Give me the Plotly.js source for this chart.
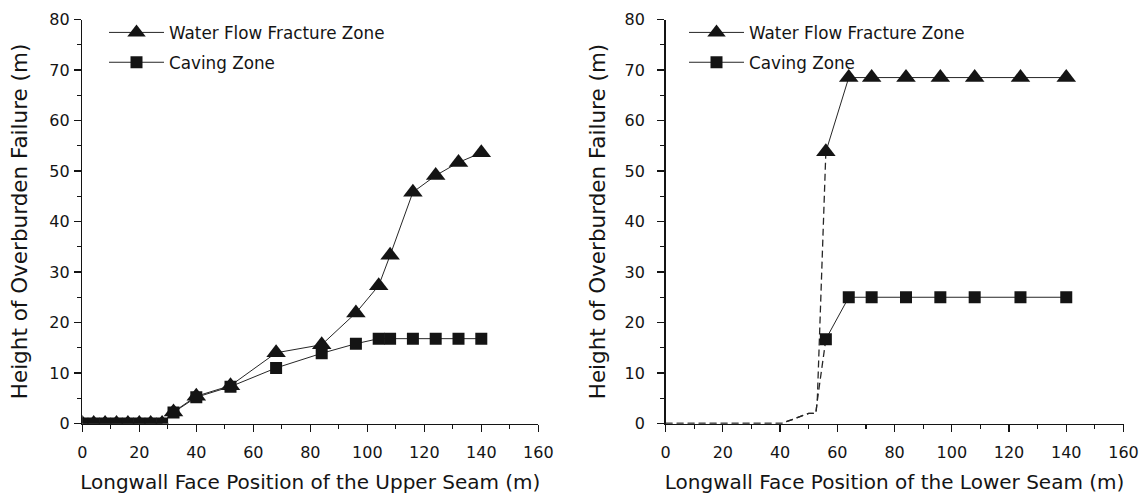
<!DOCTYPE html>
<html>
<head>
<meta charset="utf-8">
<script src="https://cdn.plot.ly/plotly-3.0.1.min.js"></script>
<style>
  html, body { margin: 0; padding: 0; background: #fff; }
  #chart { width: 1143px; height: 494px; }
</style>
</head>
<body>
<div id="chart"></div>
<script>
// ---- Data: upper seam (left panel) ----
const upperX = [0, 4, 8, 12, 16, 20, 24, 28, 32, 40, 52, 68, 84, 96, 104, 108, 116, 124, 132, 140];
const upperWaterFlow = [0, 0, 0, 0, 0, 0, 0, 0, 2.3, 5.4, 7.5, 14.0, 15.6, 21.9, 27.3, 33.3, 45.8, 49.1, 51.7, 53.6];
const upperCaving = [0, 0, 0, 0, 0, 0, 0, 0, 2.2, 5.2, 7.3, 11.0, 13.9, 15.8, 16.8, 16.8, 16.8, 16.8, 16.8, 16.8];

// ---- Data: lower seam (right panel) ----
const lowerDashX = [0, 40.5, 50, 52.5, 53, 56];
const lowerWaterFlowDash = [0, 0, 2, 2, 4.5, 53.8];
const lowerCavingDash = [0, 0, 2, 2, 4.5, 16.7];
const lowerX = [56, 64, 72, 84, 96, 108, 124, 140];
const lowerWaterFlow = [53.8, 68.5, 68.5, 68.5, 68.5, 68.5, 68.5, 68.5];
const lowerCaving = [16.7, 25, 25, 25, 25, 25, 25, 25];

const seriesNames = ['Water Flow Fracture Zone', 'Caving Zone'];
const xTitles = ['Longwall Face Position of the Upper Seam (m)', 'Longwall Face Position of the Lower Seam (m)'];
const yTitle = 'Height of Overburden Failure (m)';

const INK = '#141414';
const LINE = '#262626';
const FONT = 'DejaVu Sans, Liberation Sans, Arial, sans-serif';

const triMarker = { symbol: 'triangle-up', size: 17, color: INK };
const sqMarker = { symbol: 'square', size: 12, color: INK };

const traces = [
  // left panel
  { x: upperX, y: upperWaterFlow, xaxis: 'x', yaxis: 'y', mode: 'lines+markers',
    name: seriesNames[0], legend: 'legend', legendgroup: 'wf1',
    line: { color: LINE, width: 1 }, marker: triMarker },
  { x: upperX, y: upperCaving, xaxis: 'x', yaxis: 'y', mode: 'lines+markers',
    name: seriesNames[1], legend: 'legend', legendgroup: 'cz1',
    line: { color: LINE, width: 1 }, marker: sqMarker },
  // right panel dashed transitions
  { x: lowerDashX, y: lowerWaterFlowDash, xaxis: 'x2', yaxis: 'y2', mode: 'lines',
    showlegend: false, line: { color: LINE, width: 1.3, dash: '7px,4px' } },
  { x: lowerDashX, y: lowerCavingDash, xaxis: 'x2', yaxis: 'y2', mode: 'lines',
    showlegend: false, line: { color: LINE, width: 1.3, dash: '7px,4px' } },
  // right panel solid
  { x: lowerX, y: lowerWaterFlow, xaxis: 'x2', yaxis: 'y2', mode: 'lines+markers',
    name: seriesNames[0], legend: 'legend2', legendgroup: 'wf2',
    line: { color: LINE, width: 1 }, marker: triMarker },
  { x: lowerX, y: lowerCaving, xaxis: 'x2', yaxis: 'y2', mode: 'lines+markers',
    name: seriesNames[1], legend: 'legend2', legendgroup: 'cz2',
    line: { color: LINE, width: 1 }, marker: sqMarker }
];

const W = 1143, H = 494;
function xaxisCfg(domain, title) {
  return {
    domain: domain, range: [0, 160], dtick: 20, tick0: 0,
    showgrid: false, zeroline: false,
    showline: true, linecolor: INK, linewidth: 1.5,
    ticks: 'outside', ticklen: 7, tickwidth: 1.2, tickcolor: INK,
    ticklabelstandoff: 7,
    minor: { dtick: 10, ticks: 'outside', ticklen: 4, tickwidth: 1.2, tickcolor: INK },
    tickfont: { family: FONT, size: 16, color: INK },
    title: { text: title, font: { family: FONT, size: 20, color: INK }, standoff: 15 },
    automargin: false, fixedrange: true
  };
}
function yaxisCfg(anchor, title, labelOff, titleOff) {
  return {
    anchor: anchor,
    domain: [1 - 423.5 / H, 1 - 19.5 / H], range: [0, 80], dtick: 10, tick0: 0,
    showgrid: false, zeroline: false,
    showline: true, linecolor: INK, linewidth: 1.5,
    ticks: 'outside', ticklen: 7, tickwidth: 1.2, tickcolor: INK,
    ticklabelstandoff: labelOff,
    minor: { dtick: 5, ticks: 'outside', ticklen: 4, tickwidth: 1.2, tickcolor: INK },
    tickfont: { family: FONT, size: 16, color: INK },
    title: { text: title, font: { family: FONT, size: 21.5, color: INK }, standoff: titleOff },
    automargin: false, fixedrange: true
  };
}
function legendCfg(xpx) {
  return {
    x: xpx / W, y: 1 - 15 / H, xanchor: 'left', yanchor: 'top',
    bgcolor: 'rgba(0,0,0,0)', borderwidth: 0,
    font: { family: FONT, size: 16.8, color: INK },
    itemwidth: 55, tracegroupgap: 5
  };
}

const layout = {
  width: W, height: H,
  margin: { l: 0, r: 0, t: 0, b: 0, pad: 0 },
  paper_bgcolor: '#fff', plot_bgcolor: '#fff',
  font: { family: FONT, color: INK },
  xaxis: Object.assign(xaxisCfg([82.3 / W, 538.3 / W], xTitles[0]), { anchor: 'y' }),
  yaxis: yaxisCfg('x', yTitle, 1, 15),
  xaxis2: Object.assign(xaxisCfg([665.6 / W, 1123.5 / W], xTitles[1]), { anchor: 'y2' }),
  yaxis2: yaxisCfg('x2', yTitle, 9, 13),
  legend: legendCfg(104),
  legend2: legendCfg(684),
  showlegend: true
};

Plotly.newPlot('chart', traces, layout, { staticPlot: true, displayModeBar: false });
</script>
</body>
</html>
